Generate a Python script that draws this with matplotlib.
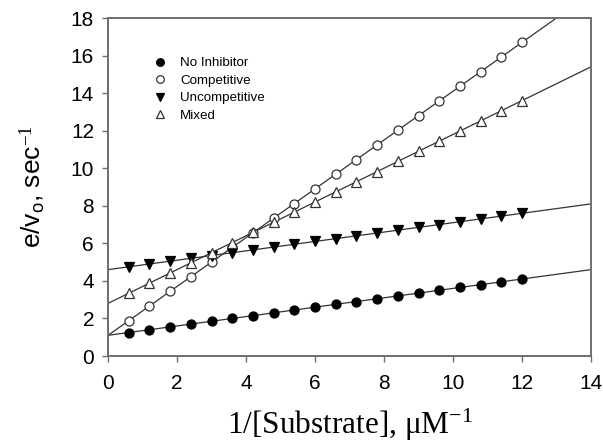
import numpy as np
import matplotlib
matplotlib.use("Agg")
import matplotlib.pyplot as plt

x = [0.6, 1.2, 1.8, 2.4, 3.0, 3.6, 4.2, 4.8, 5.4, 6.0,
     6.6, 7.2, 7.8, 8.4, 9.0, 9.6, 10.2, 10.8, 11.4, 12.0]
no_inhibitor = [1.25, 1.40, 1.55, 1.70, 1.85, 2.00, 2.15, 2.30, 2.45, 2.60,
                2.75, 2.90, 3.05, 3.20, 3.35, 3.50, 3.65, 3.80, 3.95, 4.10]
competitive = [1.88, 2.66, 3.44, 4.22, 5.00, 5.78, 6.56, 7.34, 8.12, 8.90,
               9.68, 10.46, 11.24, 12.02, 12.80, 13.58, 14.36, 15.14, 15.92, 16.70]
uncompetitive = [4.75, 4.90, 5.05, 5.20, 5.35, 5.50, 5.65, 5.80, 5.95, 6.10,
                 6.25, 6.40, 6.55, 6.70, 6.85, 7.00, 7.15, 7.30, 7.45, 7.60]
mixed = [3.34, 3.88, 4.42, 4.96, 5.50, 6.04, 6.58, 7.12, 7.66, 8.20,
         8.74, 9.28, 9.82, 10.36, 10.90, 11.44, 11.98, 12.52, 13.06, 13.60]

labels = ["No Inhibitor", "Competitive", "Uncompetitive", "Mixed"]
xticks = [0, 2, 4, 6, 8, 10, 12, 14]
yticks = [0, 2, 4, 6, 8, 10, 12, 14, 16, 18]

plt.rcParams['mathtext.fontset'] = 'custom'
plt.rcParams['mathtext.rm'] = 'Liberation Serif'
plt.rcParams['mathtext.sf'] = 'Liberation Sans'
plt.rcParams['mathtext.it'] = 'Liberation Serif:italic'

fig = plt.figure(figsize=(6.03, 4.48), dpi=100)
ax = fig.add_axes([108/603, 1-356/448, 483/603, 338/448])

series = [no_inhibitor, competitive, uncompetitive, mixed]
styles = [dict(marker='o', mfc='black', mec='black', ms=6.5),
          dict(marker='o', mfc='white', mec='#333333', ms=6.5),
          dict(marker='v', mfc='black', mec='black', ms=6.5),
          dict(marker='^', mfc='white', mec='#333333', ms=6.5)]

xl = np.array([0, 14])
for ys, st, lab in zip(series, styles, labels):
    m, b = np.polyfit(x, ys, 1)
    ax.plot(xl, m * xl + b, color='#333333', lw=0.9, zorder=1)
    ax.plot(x, ys, linestyle='none', mew=0.9, label=lab, zorder=2, **st)

ax.set_xlim(0, 14)
ax.set_ylim(0, 18)
ax.set_xticks(xticks)
ax.set_yticks(yticks)
for s in ax.spines.values():
    s.set_color('#6e6e6e')
    s.set_linewidth(1.4)
ax.tick_params(direction='out', length=4, width=1, color='#6e6e6e',
               labelsize=15)
ax.tick_params(axis='x', pad=9)
ax.tick_params(axis='y', pad=6)
for t in ax.get_xticklabels() + ax.get_yticklabels():
    t.set_fontfamily('Liberation Sans')

ax.set_xlabel(r"1/[Substrate], $\mathrm{\mu M^{-1}}$", family='Liberation Serif',
              fontsize=22.5, labelpad=10)
ax.set_ylabel(r"e/v$_\mathsf{o}$, sec$^{-1}$", family='Liberation Sans',
              fontsize=19, labelpad=17)

leg = ax.legend(loc='upper left', bbox_to_anchor=(0.083, 0.90), frameon=False,
                prop={'family': 'Liberation Sans', 'size': 9.6},
                handletextpad=1.0, labelspacing=0.38, handlelength=1.0,
                borderaxespad=0)
for h in leg.legend_handles:
    h.set_markersize(5.5)

fig.savefig("out.png", dpi=100)
